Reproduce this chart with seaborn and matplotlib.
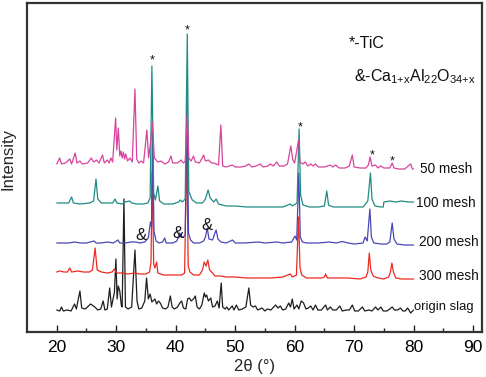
import numpy as np
import pandas as pd
import matplotlib
matplotlib.use("Agg")
import matplotlib.pyplot as plt
import seaborn as sns

# ---------------- data ----------------
slag_2theta = [20.0, 20.5, 20.8, 21.1, 21.8, 22.4, 23.0, 23.3, 23.9, 24.2, 24.8, 25.7, 26.4, 26.9, 27.4,
               27.8, 28.1, 28.5, 28.9, 29.2, 29.7, 29.95, 30.15, 30.35, 30.6, 30.85, 31.0, 31.3, 31.55,
               32.0, 32.6, 33.15, 33.5, 33.8, 34.3, 34.8, 35.1, 35.4, 35.7, 36.0, 36.5, 36.8, 37.1, 37.4,
               37.8, 38.3, 38.7, 39.1, 39.4, 39.8, 40.3, 40.7, 41.0, 41.3, 41.7, 42.0, 42.3, 42.6, 43.0,
               43.3, 43.6, 44.0, 44.4, 44.8, 45.0, 45.2, 45.5, 45.9, 46.2, 46.6, 47.0, 47.3, 47.65, 47.9,
               48.3, 48.6, 48.9, 49.5, 49.8, 50.2, 50.6, 51.2, 51.8, 52.3, 52.6, 53.0, 53.4, 53.8, 54.5,
               55.0, 55.4, 56.0, 56.8, 57.2, 57.6, 58.0, 58.5, 59.0, 59.3, 59.6, 59.9, 60.4, 60.7, 61.1,
               61.5, 61.9, 62.3, 62.7, 63.1, 63.5, 63.9, 64.5, 65.2, 65.5, 66.0, 66.4, 67.0, 67.6, 68.0,
               68.7, 69.2, 69.7, 70.1, 70.7, 71.4, 71.8, 72.5, 73.0, 73.6, 74.0, 74.5, 74.9, 75.5, 76.0,
               76.4, 76.8, 77.3, 77.8, 78.2, 78.6, 79.0, 79.5, 80.0]
slag_int = [1, 0, 4, 0, 1, 0, 7, 2, 20, 3, 2, 7, 4, 1, 2,
            10, 1, 2, 23, 4, 19, 52, 12, 25, 20, 6, 4, 112, 4,
            2, 4, 61, 10, 2, 3, 10, 33, 12, 17, 9, 12, 7, 10, 8,
            3, 2, 4, 15, 4, 2, 4, 8, 10, 3, 2, 12, 13, 10, 12,
            15, 4, 2, 6, 18, 14, 16, 10, 13, 4, 5, 10, 3, 28, 4,
            2, 4, 1, 5, 1, 6, 1, 2, 4, 23, 6, 4, 5, 1, 3,
            0, 2, 1, 6, 3, 5, 1, 2, 8, 4, 12, 2, 6, 2, 10,
            8, 2, 3, 5, 1, 6, 1, 1, 6, 1, 4, 1, 1, 5, 0,
            1, 1, 6, 0, 0, 4, 0, 1, 0, 4, 1, 4, 0, 0, 2,
            4, 1, 1, 3, 0, 0, 3, -2, 1]

m300_2theta = [20.0, 20.5, 21.2, 21.8, 22.2, 22.5, 23.5, 24.5, 25.5, 26.0, 26.45, 26.8, 27.5, 28.5, 29.3,
               29.7, 30.1, 31.0, 32.0, 33.0, 34.0, 35.0, 35.6, 35.85, 36.05, 36.3, 36.5, 36.8, 37.0,
               38.0, 39.0, 40.0, 41.0, 41.5, 41.85, 42.1, 42.4, 43.0, 44.0, 44.5, 44.8, 45.1, 45.4,
               45.7, 46.2, 46.6, 47.5, 48.5, 50.0, 52.0, 54.0, 56.0, 58.0, 59.3, 59.6, 60.3, 60.65,
               60.9, 61.2, 62.0, 63.0, 64.5, 65.0, 65.2, 65.5, 67.0, 69.0, 71.0, 72.0, 72.3, 72.55,
               72.8, 73.2, 74.0, 75.0, 75.8, 76.1, 76.35, 76.6, 77.0, 78.0, 79.0, 80.0]
m300_int = [0, 1, 0, 0, 4, 0, 1, 0, 0, 2, 24, 2, 0, -1, 0,
            3, -1, -1, -2, -1, -2, -2, 0, 10, 100, 8, 4, 10, -1,
            -3, -3, -3, -3, -1, 128, 6, 0, -3, -3, 2, 10, 6, 12,
            2, -1, -4, -4, -5, -5, -6, -6, -6, -5, -2, -5, -3, 55,
            4, -3, -6, -6, -6, -5, -2, -6, -6, -6, -7, -5, 0, 19,
            2, -4, -6, -7, -5, 0, 9, 0, -6, -7, -7, -7]

m200_2theta = [20.0, 21.0, 22.0, 23.0, 24.0, 25.0, 26.3, 26.6, 27.5, 28.5, 29.5, 30.3, 30.6, 31.5, 32.5,
               33.3, 34.0, 34.8, 35.4, 35.75, 35.95, 36.1, 36.35, 36.7, 37.2, 37.8, 38.15, 38.4, 39.5,
               40.2, 40.7, 41.0, 41.3, 41.6, 41.9, 42.15, 42.5, 43.0, 44.0, 44.7, 45.0, 45.3, 45.6,
               46.2, 46.6, 46.8, 47.1, 47.6, 48.5, 49.55, 50.0, 51.5, 53.9, 55.0, 57.0, 58.0, 59.5,
               60.05, 60.35, 60.7, 60.95, 61.3, 62.0, 64.0, 65.8, 67.0, 68.0, 69.0, 70.0, 71.5, 71.85,
               72.2, 72.65, 72.9, 73.3, 74.5, 75.5, 76.0, 76.4, 76.7, 77.2, 78.5, 80.0]
m200_int = [0, 0, 0, 1, 0, 0, 2, 0, 0, 1, 0, 3, 0, 0, 1,
            1, 0, 1, 5, 21, 16, 110, 12, 2, 0, 1, 5, 0, 0,
            2, 10, 6, 6, 8, 150, 10, 3, 0, 0, 2, 6, 15, 4,
            3, 10, 13, 4, 1, 0, 3, 0, 0, 1, 0, 1, 0, 1,
            7, 3, 70, 6, 1, 0, 0, 1, 0, 1.5, 0, -1, 0, 6,
            2, 34, 6, 0, -1, -1, 1, 20, 4, -1, -2, -2]

m100_2theta = [20.0, 21.0, 22.0, 22.5, 22.8, 24.0, 25.5, 26.2, 26.6, 26.9, 27.5, 28.5, 29.4, 29.8, 30.1,
               31.0, 31.5, 32.3, 32.6, 33.5, 34.5, 35.3, 35.7, 36.0, 36.3, 36.6, 37.0, 37.3, 38.0,
               39.5, 40.5, 40.8, 41.1, 41.6, 41.95, 42.2, 42.5, 42.8, 43.5, 44.5, 45.0, 45.45, 45.8,
               46.4, 46.8, 47.2, 48.5, 50.0, 52.0, 54.0, 56.0, 58.0, 59.3, 59.6, 60.4, 60.75, 61.0,
               61.4, 62.5, 64.0, 65.0, 65.4, 65.7, 66.5, 68.0, 70.0, 71.5, 72.3, 72.75, 73.0, 73.5,
               74.5, 74.9, 75.0, 76.0, 77.0, 78.0, 79.0, 80.0]
m100_int = [0, 0, 0, 6, 0, -1, 0, 2, 24, 4, 0, 0, 0, 4, 0,
            -1, 1, 2, 0, -1, -1, 0, 5, 137, 10, 3, 17, 2, -1,
            -1, 1, 3, 1, 4, 169, 12, 7, 3, 0, 0, 4, 13, 5,
            1, 4, -1, -3, -3, -4, -4, -4, -4, -1, -3, 0, 74, 8,
            -2, -4, -4, -3, 12, -2, -4, -4, -4, -4, 2, 30, 4, -3,
            -4, -4, 1, 2, 1, 2, 1, 1]

m50_2theta = [20.0, 20.5, 20.8, 21.5, 22.2, 22.5, 23.1, 23.4, 23.9, 24.3, 25.2, 25.8, 26.2, 26.7, 27.1,
              27.7, 28.0, 28.5, 28.8, 29.1, 29.4, 29.9, 30.1, 30.35, 30.6, 30.8, 31.0, 31.2, 31.4,
              31.6, 31.9, 32.3, 32.7, 33.15, 33.45, 33.8, 34.2, 34.6, 35.15, 35.45, 35.8, 36.1, 36.4,
              37.0, 37.5, 38.2, 38.8, 39.2, 39.5, 40.3, 40.9, 41.3, 41.6, 41.95, 42.2, 42.6, 43.0,
              43.3, 44.0, 44.7, 45.0, 45.5, 46.0, 46.4, 47.2, 47.6, 47.9, 48.5, 49.5, 50.0, 51.0,
              51.8, 52.3, 52.8, 53.5, 54.2, 54.7, 55.5, 55.9, 56.4, 57.0, 57.4, 58.2, 58.8, 59.35,
              59.7, 60.0, 60.65, 60.9, 61.4, 61.8, 62.2, 62.7, 63.1, 63.5, 64.0, 65.0, 66.0, 66.4,
              66.9, 67.5, 68.5, 69.2, 69.7, 70.0, 71.0, 72.0, 72.4, 72.7, 73.0, 73.6, 74.0, 74.5,
              75.0, 76.0, 76.4, 76.7, 77.5, 78.5, 79.5, 79.8, 80.0]
m50_int = [0, 6, 0, 1, 5, 0, 11, 1, 3, 0, 1, 6, 2, 4, 1,
           9, 1, 4, 1, 6, 2, 46, 14, 36, 8, 13, 6, 12, 5,
           10, 3, 6, 2, 75, 5, 1, 3, 1, 34, 6, 23, 42, 6,
           2, 3, 0, 2, 8, 1, 1, 4, 1, 3, 50, 6, 3, 8,
           2, 1, 9, 3, 4, 1, 1, -1, 39, -2, -3, -1, -3, -3,
           -2, 0, -3, -2, 0, -3, -2, 0, -2, 2, -2, -2, 0, 18,
           4, 1, 24, 2, 0, 2, -2, 0, -2, 0, -3, -3, -1, -3,
           -1, -4, -4, -2, 9, -3, -4, -4, -1, 7, -2, -1, -4, -2,
           -4, -4, 1, -4, -5, -5, 0, -5, -5]

series_names = ["origin slag", "300 mesh", "200 mesh", "100 mesh", "50 mesh"]
series_x = [slag_2theta, m300_2theta, m200_2theta, m100_2theta, m50_2theta]
series_y = [slag_int, m300_int, m200_int, m100_int, m50_int]
offsets = [21, 60, 89, 129, 168]
colors = ["#1e1e1e", "#ee2a20", "#4a47b4", "#1f8c84", "#d6449e"]
label_pos = [(80.0, 25), (80.9, 56), (80.9, 90), (80.4, 129), (81.05, 163)]
label_text = ["origin slag", "300 mesh", "200 mesh", "100 mesh", "50 mesh"]

tic_2theta = [36.0, 42.0, 60.85, 73.1, 76.4]
tic_mark_y = [272, 302, 205, 177, 171]
ca_2theta = [34.2, 40.45, 45.25]
ca_mark_y = [97, 99, 107]

# ---------------- plotting ----------------
sns.set_style("ticks")
plt.rcParams["font.family"] = ["Liberation Sans", "DejaVu Sans"]
plt.rcParams["mathtext.fontset"] = "custom"
plt.rcParams["mathtext.rm"] = "Liberation Sans"
plt.rcParams["mathtext.it"] = "Liberation Sans"

fig = plt.figure(figsize=(4.86, 3.77), dpi=100)
ax = fig.add_axes([27 / 486, 45 / 377, 455 / 486, 329 / 377])

frames = []
for name, xs, ys, off in zip(series_names, series_x, series_y, offsets):
    frames.append(pd.DataFrame({"theta": xs, "I": np.asarray(ys, float) + off,
                                "series": name}))
df = pd.concat(frames, ignore_index=True)

for name, col in zip(series_names, colors):
    sub = df[df.series == name]
    sns.lineplot(data=sub, x="theta", y="I", sort=False, estimator=None, ax=ax,
                 color=col, lw=0.9, legend=False)

for (lx, ly), txt in zip(label_pos, label_text):
    ax.text(lx, ly, txt, fontsize=9.8 if txt != "origin slag" else 9.4,
            ha="left", va="center", color="#111111")

for tx, ty in zip(tic_2theta, tic_mark_y):
    ax.text(tx, ty, "*", fontsize=9, ha="center", va="center", color="#111111")
for cx, cy in zip(ca_2theta, ca_mark_y):
    ax.text(cx, cy, "&", fontsize=12, ha="center", va="center", color="#111111")

ax.text(69.1, 289, "*-TiC", fontsize=11.5, ha="left", va="center", color="#111111")
ax.text(69.9, 255,
        r"&-Ca$_{\mathregular{1{+}x}}$Al$_{\mathregular{22}}$O$_{\mathregular{34{+}x}}$",
        fontsize=11.5, ha="left", va="center", color="#111111")

ax.set_xlim(15, 91.5)
ax.set_ylim(0, 329)
ax.set_xticks(np.arange(20, 91, 10))
ax.set_xticks(np.arange(25, 91, 10), minor=True)
ax.set_yticks([])
ax.tick_params(axis="x", which="major", direction="in", length=5, width=1,
               labelsize=12.5, pad=6, colors="#222222")
ax.tick_params(axis="x", which="minor", direction="in", length=3, width=1, colors="#222222")
ax.tick_params(axis="x", labelcolor="black")
for sp in ax.spines.values():
    sp.set_visible(True)
    sp.set_linewidth(1.6)
    sp.set_color("#333333")

ax.set_xlabel("2θ (°)", fontsize=12, labelpad=3)
ax.set_ylabel("Intensity", fontsize=12)
ax.yaxis.set_label_coords(-0.026, 0.527)

fig.savefig("out.png", dpi=100)
